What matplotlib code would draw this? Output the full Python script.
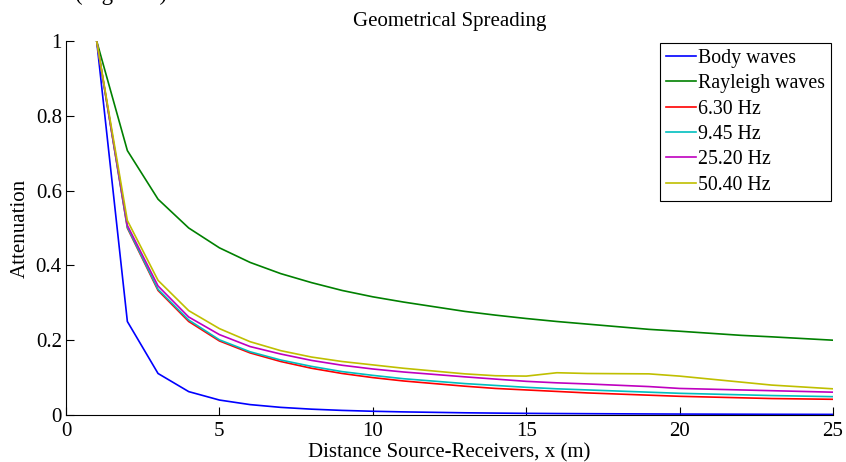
import matplotlib
matplotlib.use("Agg")
import matplotlib.pyplot as plt

plt.rcParams['font.family'] = ['Liberation Serif', 'DejaVu Serif']

x = [1, 2, 3, 4, 5, 6, 7, 8, 9, 10, 11, 13, 14, 15, 16, 17, 19, 20, 22, 23, 25]
body = [1, .25, .111, .0625, .04, .0278, .0204, .0156, .0123, .01, .0083, .0059,
        .0051, .0044, .0039, .0035, .0028, .0025, .0021, .0019, .0016]
rayleigh = [1, .707, .577, .5, .447, .408, .378, .354, .333, .316, .302, .277,
            .267, .258, .25, .243, .229, .224, .213, .209, .2]
f630 = [1, .5, .333, .25, .198, .166, .143, .125, .111, .1, .091, .077, .071,
        .067, .063, .059, .053, .05, .046, .044, .042]
f945 = [1, .502, .336, .254, .201, .169, .147, .13, .116, .106, .097, .084, .079,
        .074, .07, .067, .061, .058, .054, .052, .049]
f2520 = [1, .507, .345, .262, .215, .183, .163, .146, .133, .123, .115, .102, .096,
         .09, .086, .083, .076, .071, .067, .065, .061]
f5040 = [1, .52, .36, .279, .231, .196, .172, .155, .143, .134, .125, .11, .105,
         .104, .113, .111, .11, .104, .088, .08, .07]

labels = ['Body waves', 'Rayleigh waves', '6.30 Hz', '9.45 Hz', '25.20 Hz', '50.40 Hz']
colors = ['#0000ff', '#008000', '#ff0000', '#00bfbf', '#bf00bf', '#bfbf00']
series = [body, rayleigh, f630, f945, f2520, f5040]

FS = 15

fig = plt.figure(figsize=(8.46, 4.62), dpi=100)
ax = fig.add_axes([66/846, 47/462, (833-66)/846, (415-41)/462])

for s, c, l in zip(series, colors, labels):
    ax.plot(x, s, color=c, lw=1.2, label=l)

ax.set_xlim(0, 25)
ax.set_ylim(0, 1)
ax.set_xticks([0, 5, 10, 15, 20, 25])
ax.set_yticks([0, 0.2, 0.4, 0.6, 0.8, 1])
ax.set_yticklabels(['0', '0.2', '0.4', '0.6', '0.8', '1'])
ax.spines['top'].set_visible(False)
ax.spines['right'].set_visible(False)
ax.tick_params(direction='in', length=6, labelsize=FS, pad=3)
ax.tick_params(axis='x', pad=5)
ax.set_xlabel('Distance Source-Receivers, x (m)', fontsize=FS, labelpad=2)
ax.set_ylabel('Attenuation', fontsize=FS, labelpad=4)
ax.set_title('Geometrical Spreading', fontsize=FS, pad=11)

leg = ax.legend(loc='upper right', fontsize=14.3, handlelength=1.5, handletextpad=0.1,
                borderpad=0.3, labelspacing=0.32, fancybox=False, framealpha=1,
                edgecolor='black', borderaxespad=0.1)
leg.get_frame().set_linewidth(0.8)

fig.text(75/846, 0.999, '(Figure 4)', fontsize=16.5, va='baseline', ha='left')

fig.savefig('out.png', dpi=100)
